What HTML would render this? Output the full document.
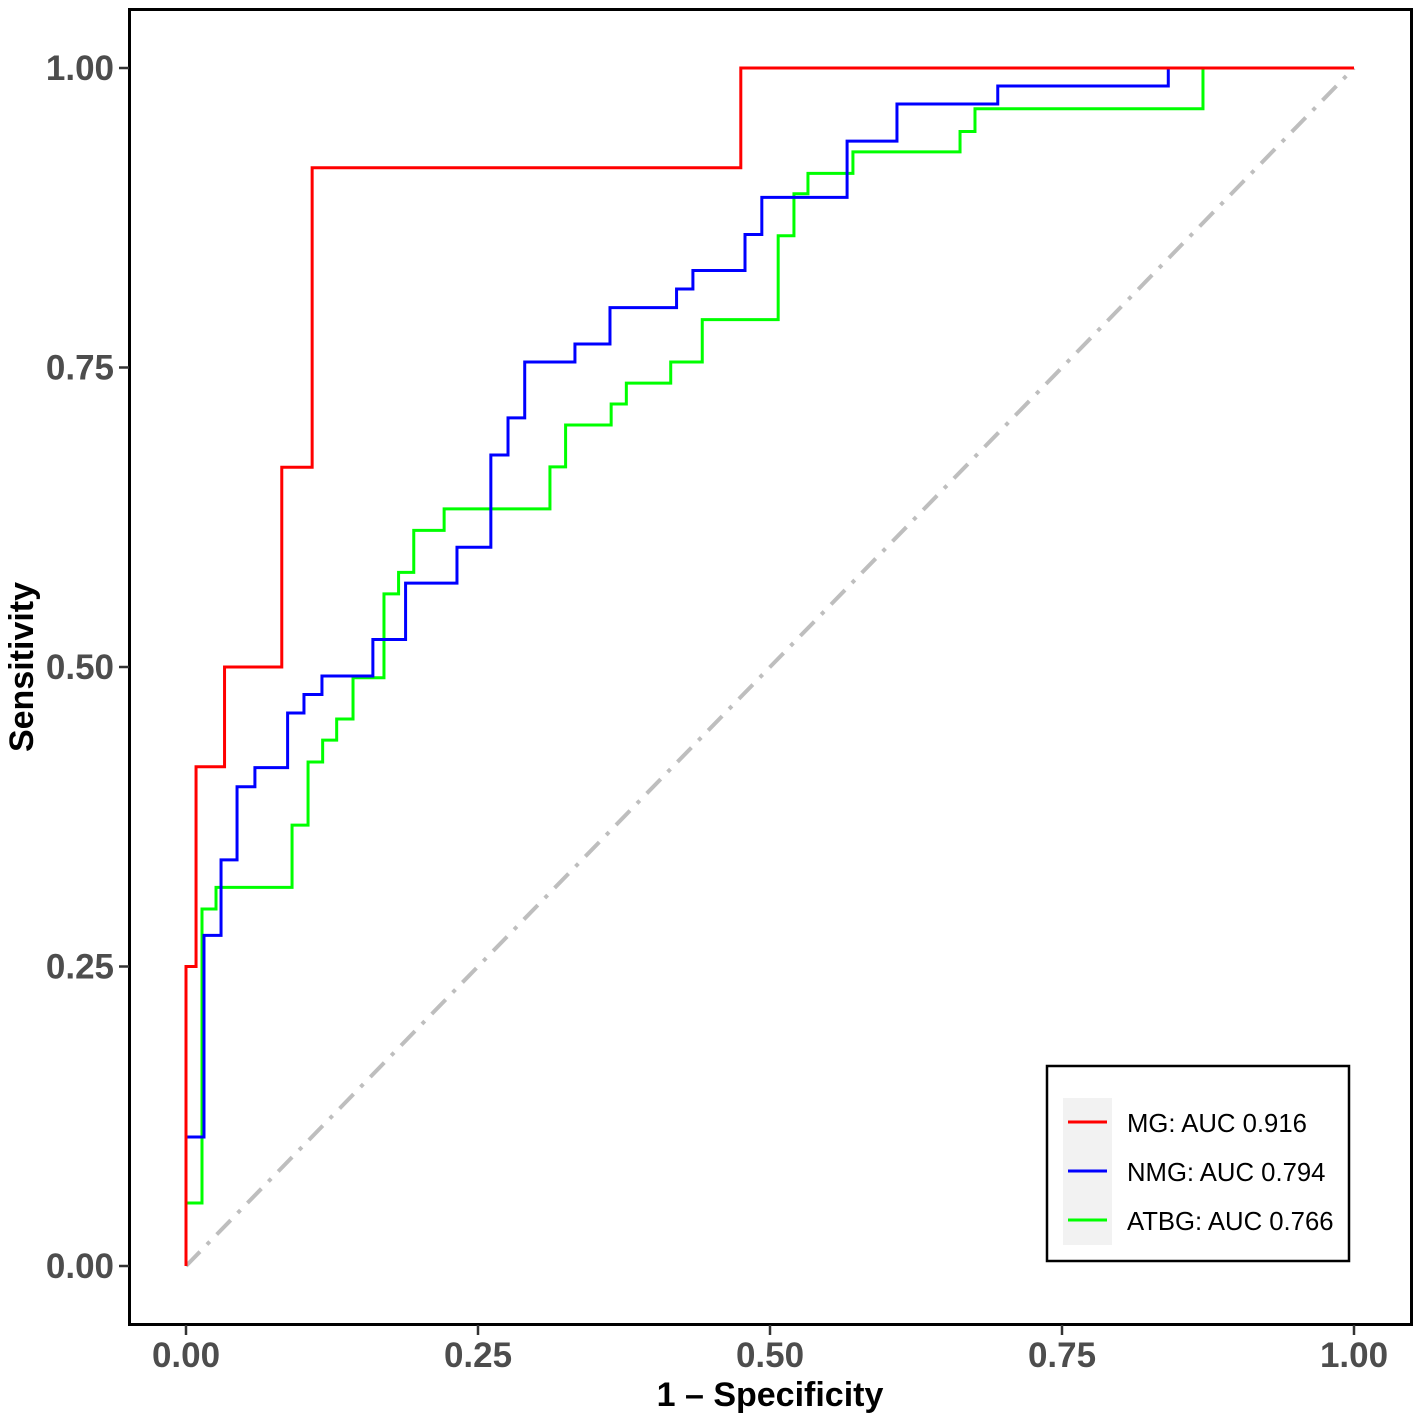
<!DOCTYPE html>
<html><head><meta charset="utf-8"><style>
html,body{margin:0;padding:0;background:#fff;}
svg{display:block;font-family:"Liberation Sans",Arial,sans-serif;}
</style></head><body>
<svg id="chart" width="1418" height="1418" viewBox="0 0 1418 1418">
<rect x="0" y="0" width="1418" height="1418" fill="#fff"/>
<g id="grid"></g>
<g id="series"></g>
<rect x="129.5" y="9.5" width="1282" height="1315" fill="none" stroke="#000" stroke-width="3"/>
<g id="axes"></g>
<text x="770" y="1406" text-anchor="middle" font-size="34" font-weight="bold" fill="#000">1 – Specificity</text>
<text transform="translate(33,667) rotate(-90)" text-anchor="middle" font-size="34" font-weight="bold" fill="#000">Sensitivity</text>
<g>
<rect x="1047" y="1066" width="302" height="195" fill="#fff" stroke="#000" stroke-width="2.5"/>
<rect x="1063" y="1098" width="49" height="147" fill="#f2f2f2"/>
<line x1="1068" x2="1107" y1="1122" y2="1122" stroke="#ff0000" stroke-width="3"/>
<line x1="1068" x2="1107" y1="1171" y2="1171" stroke="#0000ff" stroke-width="3"/>
<line x1="1068" x2="1107" y1="1220" y2="1220" stroke="#00ff00" stroke-width="3"/>
<text x="1127" y="1132" font-size="25.7" fill="#000">MG: AUC 0.916</text>
<text x="1127" y="1181" font-size="25.7" fill="#000">NMG: AUC 0.794</text>
<text x="1127" y="1230" font-size="25.7" fill="#000">ATBG: AUC 0.766</text>
</g>
</svg>
<script>
const xTicks = [0, 0.25, 0.5, 0.75, 1];
const xTickLabels = ["0.00", "0.25", "0.50", "0.75", "1.00"];
const yTicks = [0, 0.25, 0.5, 0.75, 1];
const yTickLabels = ["0.00", "0.25", "0.50", "0.75", "1.00"];
const mgFpr = [0, 0.0086, 0.033, 0.082, 0.108, 0.475, 1];
const mgTpr = [0.25, 0.4167, 0.5, 0.6667, 0.9167, 1, 1];
const nmgFpr = [0, 0.0154, 0.030, 0.0437, 0.059, 0.087, 0.101, 0.1164, 0.160, 0.188, 0.232, 0.261, 0.2757, 0.290, 0.333, 0.363, 0.420, 0.434, 0.4786, 0.493, 0.566, 0.6087, 0.695, 0.841, 1];
const nmgTpr = [0.1077, 0.276, 0.339, 0.40, 0.416, 0.4616, 0.477, 0.4925, 0.523, 0.570, 0.600, 0.677, 0.708, 0.7546, 0.7696, 0.800, 0.8155, 0.831, 0.861, 0.892, 0.939, 0.970, 0.985, 1, 1];
const atbgFpr = [0, 0.0137, 0.0257, 0.0908, 0.1045, 0.117, 0.129, 0.143, 0.1695, 0.182, 0.195, 0.221, 0.3116, 0.325, 0.364, 0.377, 0.415, 0.442, 0.507, 0.5205, 0.5325, 0.571, 0.6627, 0.6755, 0.8707, 1];
const atbgTpr = [0.0526, 0.298, 0.316, 0.368, 0.4207, 0.439, 0.4566, 0.491, 0.561, 0.579, 0.614, 0.632, 0.667, 0.702, 0.7195, 0.737, 0.7546, 0.790, 0.860, 0.895, 0.912, 0.930, 0.947, 0.966, 1, 1];

const NS = "http://www.w3.org/2000/svg";
const X0 = 186, X1 = 1354, Y0 = 1266, Y1 = 68;
function sx(v){ return X0 + v * (X1 - X0); }
function sy(v){ return Y0 - v * (Y0 - Y1); }
const axes = document.getElementById("axes");
const series = document.getElementById("series");

xTicks.forEach((t, i) => {
  const l = document.createElementNS(NS, "line");
  l.setAttribute("x1", sx(t)); l.setAttribute("x2", sx(t));
  l.setAttribute("y1", 1325); l.setAttribute("y2", 1335);
  l.setAttribute("stroke", "#333"); l.setAttribute("stroke-width", "2.5");
  
  
  axes.appendChild(l);
  const tx = document.createElementNS(NS, "text");
  tx.setAttribute("x", sx(t)); tx.setAttribute("y", 1367);
  tx.setAttribute("text-anchor", "middle"); tx.setAttribute("font-size", "35");
  tx.setAttribute("font-weight", "bold"); tx.setAttribute("fill", "#4d4d4d");
  tx.textContent = xTickLabels[i];
  
  
  axes.appendChild(tx);
});
yTicks.forEach((t, i) => {
  const l = document.createElementNS(NS, "line");
  l.setAttribute("x1", 119); l.setAttribute("x2", 129);
  l.setAttribute("y1", sy(t)); l.setAttribute("y2", sy(t));
  l.setAttribute("stroke", "#333"); l.setAttribute("stroke-width", "2.5");
  
  
  axes.appendChild(l);
  const tx = document.createElementNS(NS, "text");
  tx.setAttribute("x", 114); tx.setAttribute("y", sy(t) + 12);
  tx.setAttribute("text-anchor", "end"); tx.setAttribute("font-size", "35");
  tx.setAttribute("font-weight", "bold"); tx.setAttribute("fill", "#4d4d4d");
  tx.textContent = yTickLabels[i];
  
  
  axes.appendChild(tx);
});

const diag = document.createElementNS(NS, "line");
diag.setAttribute("x1", sx(0)); diag.setAttribute("y1", sy(0));
diag.setAttribute("x2", sx(1)); diag.setAttribute("y2", sy(1));
diag.setAttribute("stroke", "#bebebe"); diag.setAttribute("stroke-width", "4");
diag.setAttribute("stroke-dasharray", "20 10 4 10");


series.appendChild(diag);

function stepPath(fpr, tpr){
  let y = 0;
  let d = "M" + sx(0) + "," + sy(0);
  for (let i = 0; i < fpr.length; i++){
    d += " L" + sx(fpr[i]) + "," + sy(y);
    d += " L" + sx(fpr[i]) + "," + sy(tpr[i]);
    y = tpr[i];
  }
  return d;
}
function addCurve(fpr, tpr, color, name){
  const p = document.createElementNS(NS, "path");
  p.setAttribute("d", stepPath(fpr, tpr));
  p.setAttribute("fill", "none"); p.setAttribute("stroke", color);
  p.setAttribute("stroke-width", "3");
  
  
  series.appendChild(p);
}
addCurve(atbgFpr, atbgTpr, "#00ff00", "atbg-roc-curve");
addCurve(nmgFpr, nmgTpr, "#0000ff", "nmg-roc-curve");
addCurve(mgFpr, mgTpr, "#ff0000", "mg-roc-curve");
</script>
</body></html>
